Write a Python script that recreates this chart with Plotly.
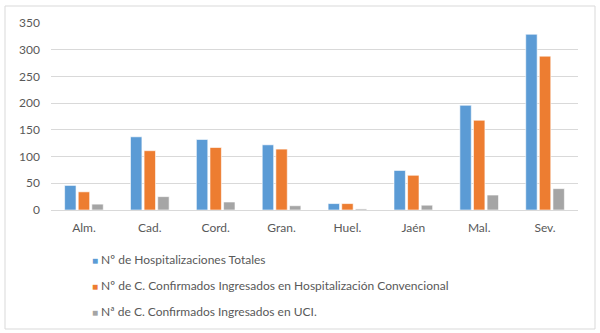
import plotly.graph_objects as go

categories = ["Alm.", "Cad.", "Cord.", "Gran.", "Huel.", "Jaén", "Mal.", "Sev."]
hosp_totales = [46, 137, 132, 122, 12, 74, 196, 329]
conf_convencional = [34, 111, 117, 114, 12, 65, 168, 288]
conf_uci = [11, 25, 15, 8, 2, 9, 28, 40]

series_names = [
    "Nº de Hospitalizaciones Totales",
    "Nº de C. Confirmados Ingresados en Hospitalización Convencional",
    "Nª de C. Confirmados Ingresados en UCI.",
]
colors = ["#5B9BD5", "#ED7D31", "#A5A5A5"]
y_ticks = [0, 50, 100, 150, 200, 250, 300, 350]

W, H = 600, 333
ml, mr, mt, mb = 51, 22, 23, 123
pw, ph = W - ml - mr, H - mt - mb

fig = go.Figure()
for name, vals, col in zip(series_names, [hosp_totales, conf_convencional, conf_uci], colors):
    fig.add_trace(go.Bar(
        x=categories, y=vals, name=name,
        marker=dict(color=col, line=dict(color="rgba(255,255,255,0.6)", width=1)),
        legendgroup=name, showlegend=False,
    ))
# legend entries: small coloured square as part of the label text
for name, col in zip(series_names, colors):
    fig.add_trace(go.Scatter(
        x=[None], y=[None], mode="markers",
        marker=dict(color="rgba(0,0,0,0)", size=1),
        name=f'<span style="color:{col};font-size:10px">■</span> {name}',
        legendgroup=name, showlegend=True, hoverinfo="skip",
    ))

fig.update_layout(
    width=W, height=H,
    margin=dict(l=ml, r=mr, t=mt, b=mb, pad=0, autoexpand=False),
    paper_bgcolor="white", plot_bgcolor="white",
    font=dict(family="Lato, Noto Sans, sans-serif", size=12, color="#595959"),
    barmode="group", bargap=0.38, bargroupgap=0.16,
    showlegend=True,
    legend=dict(
        orientation="v", xref="container", yref="container",
        x=52 / W, y=(H - 245) / H, xanchor="left", yanchor="top",
        font=dict(size=12, color="#595959"), tracegroupgap=7,
        itemwidth=30, bgcolor="rgba(0,0,0,0)",
    ),
    xaxis=dict(showgrid=False, showline=False, ticks="", tickfont=dict(size=12, color="#595959"),
               ticklabelstandoff=9),
    yaxis=dict(range=[0, 350], tickvals=y_ticks, showgrid=True, gridcolor="#D9D9D9", gridwidth=1,
               zeroline=True, zerolinecolor="#D9D9D9", zerolinewidth=1, showline=False,
               tickfont=dict(size=12, color="#595959"), ticklabelstandoff=10),
)

# outer chart border
fig.add_shape(type="rect", xref="paper", yref="paper",
              x0=(5 - ml) / pw, x1=(595 - ml) / pw,
              y0=(H - mb - 329) / ph, y1=(H - mb - 6) / ph,
              line=dict(color="#D9D9D9", width=1), fillcolor="rgba(0,0,0,0)", layer="below")

fig.write_html("out.html")
